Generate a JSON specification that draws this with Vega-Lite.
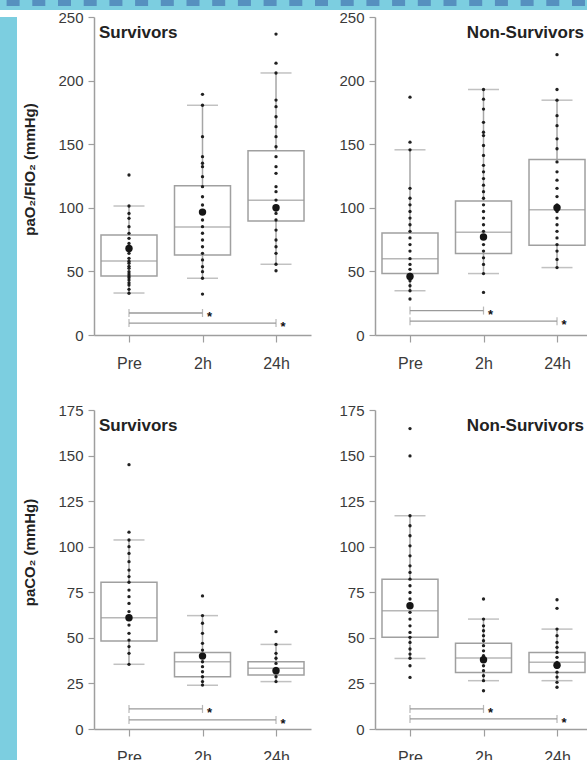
{
  "$schema": "https://vega.github.io/schema/vega-lite/v6.json",
  "padding": 0,
  "background": "white",
  "config": {
    "view": {"stroke": null},
    "axis": {"domainColor": "#9e9e9e", "domainWidth": 1.5, "tickColor": "#9e9e9e", "tickWidth": 1.2, "labelColor": "#3a3a3a", "labelFont": "Liberation Sans", "labelFontSize": 15, "titleFont": "Liberation Sans", "titleFontSize": 15, "titleFontWeight": "bold", "titleColor": "#222222", "grid": false},
    "axisX": {"tickSize": 7, "labelPadding": 13, "labelFontSize": 16, "labelAngle": 0},
    "axisY": {"tickSize": 6, "labelPadding": 5, "titlePadding": 20},
    "title": {"font": "Liberation Sans", "fontSize": 17, "fontWeight": "bold", "color": "#222222"}
  },
  "datasets": {
    "boxes": [
      {"panel": "O2S", "time": "Pre", "lo": 33, "q1": 46.4, "med": 58.2, "q3": 78.6, "hi": 101.4},
      {"panel": "O2S", "time": "2h", "lo": 44.6, "q1": 62.9, "med": 85, "q3": 117.4, "hi": 180.6},
      {"panel": "O2S", "time": "24h", "lo": 55.6, "q1": 89.6, "med": 106, "q3": 144.9, "hi": 206},
      {"panel": "O2N", "time": "Pre", "lo": 34.8, "q1": 48.3, "med": 60, "q3": 80.2, "hi": 145.6},
      {"panel": "O2N", "time": "2h", "lo": 48.3, "q1": 64, "med": 80.7, "q3": 105.4, "hi": 193},
      {"panel": "O2N", "time": "24h", "lo": 53, "q1": 70.6, "med": 98.4, "q3": 137.9, "hi": 184.6},
      {"panel": "CO2S", "time": "Pre", "lo": 35.5, "q1": 48.3, "med": 61, "q3": 80.5, "hi": 103.7},
      {"panel": "CO2S", "time": "2h", "lo": 24, "q1": 28.7, "med": 36.9, "q3": 41.9, "hi": 62.2},
      {"panel": "CO2S", "time": "24h", "lo": 26, "q1": 29.6, "med": 33.3, "q3": 36.9, "hi": 46.4},
      {"panel": "CO2N", "time": "Pre", "lo": 38.7, "q1": 50.3, "med": 64.9, "q3": 82.2, "hi": 117},
      {"panel": "CO2N", "time": "2h", "lo": 26.5, "q1": 31, "med": 38.9, "q3": 47, "hi": 60.3},
      {"panel": "CO2N", "time": "24h", "lo": 26.5, "q1": 31, "med": 36.6, "q3": 42, "hi": 54.8}
    ],
    "points": [
      {"panel": "O2S", "time": "Pre", "v": 125.8}, {"panel": "O2S", "time": "Pre", "v": 101.4}, {"panel": "O2S", "time": "Pre", "v": 95.6}, {"panel": "O2S", "time": "Pre", "v": 91.7}, {"panel": "O2S", "time": "Pre", "v": 85.2}, {"panel": "O2S", "time": "Pre", "v": 79.9}, {"panel": "O2S", "time": "Pre", "v": 76}, {"panel": "O2S", "time": "Pre", "v": 72}, {"panel": "O2S", "time": "Pre", "v": 68.1}, {"panel": "O2S", "time": "Pre", "v": 64.2}, {"panel": "O2S", "time": "Pre", "v": 60.3}, {"panel": "O2S", "time": "Pre", "v": 58}, {"panel": "O2S", "time": "Pre", "v": 56.4}, {"panel": "O2S", "time": "Pre", "v": 54}, {"panel": "O2S", "time": "Pre", "v": 52.4}, {"panel": "O2S", "time": "Pre", "v": 49.8}, {"panel": "O2S", "time": "Pre", "v": 48}, {"panel": "O2S", "time": "Pre", "v": 46.4}, {"panel": "O2S", "time": "Pre", "v": 45}, {"panel": "O2S", "time": "Pre", "v": 43.2}, {"panel": "O2S", "time": "Pre", "v": 41}, {"panel": "O2S", "time": "Pre", "v": 39.3}, {"panel": "O2S", "time": "Pre", "v": 35.9}, {"panel": "O2S", "time": "Pre", "v": 32.8},
      {"panel": "O2S", "time": "2h", "v": 189.2}, {"panel": "O2S", "time": "2h", "v": 180.6}, {"panel": "O2S", "time": "2h", "v": 155.9}, {"panel": "O2S", "time": "2h", "v": 140.2}, {"panel": "O2S", "time": "2h", "v": 135}, {"panel": "O2S", "time": "2h", "v": 132.3}, {"panel": "O2S", "time": "2h", "v": 124.5}, {"panel": "O2S", "time": "2h", "v": 116.6}, {"panel": "O2S", "time": "2h", "v": 108.7}, {"panel": "O2S", "time": "2h", "v": 102.2}, {"panel": "O2S", "time": "2h", "v": 90.4}, {"panel": "O2S", "time": "2h", "v": 85.2}, {"panel": "O2S", "time": "2h", "v": 80}, {"panel": "O2S", "time": "2h", "v": 74.7}, {"panel": "O2S", "time": "2h", "v": 69.4}, {"panel": "O2S", "time": "2h", "v": 64.2}, {"panel": "O2S", "time": "2h", "v": 59}, {"panel": "O2S", "time": "2h", "v": 53.7}, {"panel": "O2S", "time": "2h", "v": 49.8}, {"panel": "O2S", "time": "2h", "v": 44.6}, {"panel": "O2S", "time": "2h", "v": 32.2},
      {"panel": "O2S", "time": "24h", "v": 236.6}, {"panel": "O2S", "time": "24h", "v": 213.7}, {"panel": "O2S", "time": "24h", "v": 206}, {"panel": "O2S", "time": "24h", "v": 184.7}, {"panel": "O2S", "time": "24h", "v": 179.5}, {"panel": "O2S", "time": "24h", "v": 171.6}, {"panel": "O2S", "time": "24h", "v": 163.8}, {"panel": "O2S", "time": "24h", "v": 155.9}, {"panel": "O2S", "time": "24h", "v": 148}, {"panel": "O2S", "time": "24h", "v": 140.2}, {"panel": "O2S", "time": "24h", "v": 132.3}, {"panel": "O2S", "time": "24h", "v": 127.1}, {"panel": "O2S", "time": "24h", "v": 116.6}, {"panel": "O2S", "time": "24h", "v": 112.7}, {"panel": "O2S", "time": "24h", "v": 106.1}, {"panel": "O2S", "time": "24h", "v": 100.9}, {"panel": "O2S", "time": "24h", "v": 98.3}, {"panel": "O2S", "time": "24h", "v": 95.6}, {"panel": "O2S", "time": "24h", "v": 90.4}, {"panel": "O2S", "time": "24h", "v": 82.5}, {"panel": "O2S", "time": "24h", "v": 74.7}, {"panel": "O2S", "time": "24h", "v": 69.4}, {"panel": "O2S", "time": "24h", "v": 64.2}, {"panel": "O2S", "time": "24h", "v": 55.6}, {"panel": "O2S", "time": "24h", "v": 50.5},
      {"panel": "O2N", "time": "Pre", "v": 187}, {"panel": "O2N", "time": "Pre", "v": 151.6}, {"panel": "O2N", "time": "Pre", "v": 145.6}, {"panel": "O2N", "time": "Pre", "v": 115.3}, {"panel": "O2N", "time": "Pre", "v": 107.5}, {"panel": "O2N", "time": "Pre", "v": 102.3}, {"panel": "O2N", "time": "Pre", "v": 97.1}, {"panel": "O2N", "time": "Pre", "v": 91.9}, {"panel": "O2N", "time": "Pre", "v": 86.7}, {"panel": "O2N", "time": "Pre", "v": 81.5}, {"panel": "O2N", "time": "Pre", "v": 76.3}, {"panel": "O2N", "time": "Pre", "v": 71.1}, {"panel": "O2N", "time": "Pre", "v": 66}, {"panel": "O2N", "time": "Pre", "v": 60}, {"panel": "O2N", "time": "Pre", "v": 55.5}, {"panel": "O2N", "time": "Pre", "v": 51.6}, {"panel": "O2N", "time": "Pre", "v": 47.7}, {"panel": "O2N", "time": "Pre", "v": 45.2}, {"panel": "O2N", "time": "Pre", "v": 42.6}, {"panel": "O2N", "time": "Pre", "v": 38.7}, {"panel": "O2N", "time": "Pre", "v": 34.8}, {"panel": "O2N", "time": "Pre", "v": 28.3},
      {"panel": "O2N", "time": "2h", "v": 193}, {"panel": "O2N", "time": "2h", "v": 185.4}, {"panel": "O2N", "time": "2h", "v": 177.6}, {"panel": "O2N", "time": "2h", "v": 167.2}, {"panel": "O2N", "time": "2h", "v": 159.4}, {"panel": "O2N", "time": "2h", "v": 156.8}, {"panel": "O2N", "time": "2h", "v": 149}, {"panel": "O2N", "time": "2h", "v": 141.2}, {"panel": "O2N", "time": "2h", "v": 133.4}, {"panel": "O2N", "time": "2h", "v": 128.3}, {"panel": "O2N", "time": "2h", "v": 123}, {"panel": "O2N", "time": "2h", "v": 117.8}, {"panel": "O2N", "time": "2h", "v": 112.7}, {"panel": "O2N", "time": "2h", "v": 107.5}, {"panel": "O2N", "time": "2h", "v": 102.3}, {"panel": "O2N", "time": "2h", "v": 97.1}, {"panel": "O2N", "time": "2h", "v": 91.9}, {"panel": "O2N", "time": "2h", "v": 86.7}, {"panel": "O2N", "time": "2h", "v": 81.5}, {"panel": "O2N", "time": "2h", "v": 71.1}, {"panel": "O2N", "time": "2h", "v": 66}, {"panel": "O2N", "time": "2h", "v": 60.7}, {"panel": "O2N", "time": "2h", "v": 55.5}, {"panel": "O2N", "time": "2h", "v": 48.3}, {"panel": "O2N", "time": "2h", "v": 33.5},
      {"panel": "O2N", "time": "24h", "v": 220.4}, {"panel": "O2N", "time": "24h", "v": 193}, {"panel": "O2N", "time": "24h", "v": 184.6}, {"panel": "O2N", "time": "24h", "v": 172.4}, {"panel": "O2N", "time": "24h", "v": 164.6}, {"panel": "O2N", "time": "24h", "v": 154.2}, {"panel": "O2N", "time": "24h", "v": 146.4}, {"panel": "O2N", "time": "24h", "v": 136.1}, {"panel": "O2N", "time": "24h", "v": 128.3}, {"panel": "O2N", "time": "24h", "v": 121.7}, {"panel": "O2N", "time": "24h", "v": 115.3}, {"panel": "O2N", "time": "24h", "v": 108.8}, {"panel": "O2N", "time": "24h", "v": 102.3}, {"panel": "O2N", "time": "24h", "v": 97.1}, {"panel": "O2N", "time": "24h", "v": 91.9}, {"panel": "O2N", "time": "24h", "v": 86.7}, {"panel": "O2N", "time": "24h", "v": 81.5}, {"panel": "O2N", "time": "24h", "v": 76.3}, {"panel": "O2N", "time": "24h", "v": 71.1}, {"panel": "O2N", "time": "24h", "v": 66}, {"panel": "O2N", "time": "24h", "v": 59.4}, {"panel": "O2N", "time": "24h", "v": 53},
      {"panel": "CO2S", "time": "Pre", "v": 145}, {"panel": "CO2S", "time": "Pre", "v": 108}, {"panel": "CO2S", "time": "Pre", "v": 103.7}, {"panel": "CO2S", "time": "Pre", "v": 100}, {"panel": "CO2S", "time": "Pre", "v": 96.3}, {"panel": "CO2S", "time": "Pre", "v": 91.8}, {"panel": "CO2S", "time": "Pre", "v": 87.2}, {"panel": "CO2S", "time": "Pre", "v": 83.6}, {"panel": "CO2S", "time": "Pre", "v": 80.5}, {"panel": "CO2S", "time": "Pre", "v": 76.2}, {"panel": "CO2S", "time": "Pre", "v": 72.6}, {"panel": "CO2S", "time": "Pre", "v": 68.9}, {"panel": "CO2S", "time": "Pre", "v": 64.4}, {"panel": "CO2S", "time": "Pre", "v": 61}, {"panel": "CO2S", "time": "Pre", "v": 57}, {"panel": "CO2S", "time": "Pre", "v": 52.5}, {"panel": "CO2S", "time": "Pre", "v": 48.8}, {"panel": "CO2S", "time": "Pre", "v": 45.2}, {"panel": "CO2S", "time": "Pre", "v": 41.5}, {"panel": "CO2S", "time": "Pre", "v": 35.5},
      {"panel": "CO2S", "time": "2h", "v": 73}, {"panel": "CO2S", "time": "2h", "v": 62.2}, {"panel": "CO2S", "time": "2h", "v": 58}, {"panel": "CO2S", "time": "2h", "v": 52.5}, {"panel": "CO2S", "time": "2h", "v": 47}, {"panel": "CO2S", "time": "2h", "v": 43.3}, {"panel": "CO2S", "time": "2h", "v": 40}, {"panel": "CO2S", "time": "2h", "v": 36.9}, {"panel": "CO2S", "time": "2h", "v": 34.2}, {"panel": "CO2S", "time": "2h", "v": 31.4}, {"panel": "CO2S", "time": "2h", "v": 28.7}, {"panel": "CO2S", "time": "2h", "v": 26}, {"panel": "CO2S", "time": "2h", "v": 24.1},
      {"panel": "CO2S", "time": "24h", "v": 53.4}, {"panel": "CO2S", "time": "24h", "v": 46.4}, {"panel": "CO2S", "time": "24h", "v": 41.5}, {"panel": "CO2S", "time": "24h", "v": 38.8}, {"panel": "CO2S", "time": "24h", "v": 36}, {"panel": "CO2S", "time": "24h", "v": 33.3}, {"panel": "CO2S", "time": "24h", "v": 31.4}, {"panel": "CO2S", "time": "24h", "v": 28.7}, {"panel": "CO2S", "time": "24h", "v": 26},
      {"panel": "CO2N", "time": "Pre", "v": 164.8}, {"panel": "CO2N", "time": "Pre", "v": 149.8}, {"panel": "CO2N", "time": "Pre", "v": 117}, {"panel": "CO2N", "time": "Pre", "v": 111.5}, {"panel": "CO2N", "time": "Pre", "v": 106}, {"panel": "CO2N", "time": "Pre", "v": 100.5}, {"panel": "CO2N", "time": "Pre", "v": 95}, {"panel": "CO2N", "time": "Pre", "v": 89.5}, {"panel": "CO2N", "time": "Pre", "v": 85.9}, {"panel": "CO2N", "time": "Pre", "v": 82.2}, {"panel": "CO2N", "time": "Pre", "v": 78.6}, {"panel": "CO2N", "time": "Pre", "v": 74.9}, {"panel": "CO2N", "time": "Pre", "v": 71.3}, {"panel": "CO2N", "time": "Pre", "v": 67.6}, {"panel": "CO2N", "time": "Pre", "v": 64}, {"panel": "CO2N", "time": "Pre", "v": 60.3}, {"panel": "CO2N", "time": "Pre", "v": 56.6}, {"panel": "CO2N", "time": "Pre", "v": 53}, {"panel": "CO2N", "time": "Pre", "v": 50.3}, {"panel": "CO2N", "time": "Pre", "v": 47.5}, {"panel": "CO2N", "time": "Pre", "v": 43.9}, {"panel": "CO2N", "time": "Pre", "v": 41.1}, {"panel": "CO2N", "time": "Pre", "v": 38.8}, {"panel": "CO2N", "time": "Pre", "v": 34.7}, {"panel": "CO2N", "time": "Pre", "v": 28.3},
      {"panel": "CO2N", "time": "2h", "v": 71.3}, {"panel": "CO2N", "time": "2h", "v": 60.3}, {"panel": "CO2N", "time": "2h", "v": 56.6}, {"panel": "CO2N", "time": "2h", "v": 53.9}, {"panel": "CO2N", "time": "2h", "v": 51.2}, {"panel": "CO2N", "time": "2h", "v": 48.4}, {"panel": "CO2N", "time": "2h", "v": 45.7}, {"panel": "CO2N", "time": "2h", "v": 42.9}, {"panel": "CO2N", "time": "2h", "v": 40.2}, {"panel": "CO2N", "time": "2h", "v": 37.5}, {"panel": "CO2N", "time": "2h", "v": 34.7}, {"panel": "CO2N", "time": "2h", "v": 32}, {"panel": "CO2N", "time": "2h", "v": 29.2}, {"panel": "CO2N", "time": "2h", "v": 26.5}, {"panel": "CO2N", "time": "2h", "v": 21},
      {"panel": "CO2N", "time": "24h", "v": 70.9}, {"panel": "CO2N", "time": "24h", "v": 66.2}, {"panel": "CO2N", "time": "24h", "v": 54.8}, {"panel": "CO2N", "time": "24h", "v": 51.2}, {"panel": "CO2N", "time": "24h", "v": 47.5}, {"panel": "CO2N", "time": "24h", "v": 44.8}, {"panel": "CO2N", "time": "24h", "v": 42}, {"panel": "CO2N", "time": "24h", "v": 39.3}, {"panel": "CO2N", "time": "24h", "v": 36.6}, {"panel": "CO2N", "time": "24h", "v": 33.9}, {"panel": "CO2N", "time": "24h", "v": 31.2}, {"panel": "CO2N", "time": "24h", "v": 28.5}, {"panel": "CO2N", "time": "24h", "v": 25.6}, {"panel": "CO2N", "time": "24h", "v": 22.9}
    ],
    "means": [
      {"panel": "O2S", "time": "Pre", "v": 68}, {"panel": "O2S", "time": "2h", "v": 96.6}, {"panel": "O2S", "time": "24h", "v": 100},
      {"panel": "O2N", "time": "Pre", "v": 46}, {"panel": "O2N", "time": "2h", "v": 77}, {"panel": "O2N", "time": "24h", "v": 100},
      {"panel": "CO2S", "time": "Pre", "v": 61}, {"panel": "CO2S", "time": "2h", "v": 40}, {"panel": "CO2S", "time": "24h", "v": 32},
      {"panel": "CO2N", "time": "Pre", "v": 67.6}, {"panel": "CO2N", "time": "2h", "v": 38}, {"panel": "CO2N", "time": "24h", "v": 35}
    ],
    "brackets": [
      {"panel": "O2S", "from": "Pre", "to": "2h", "y": 17.3}, {"panel": "O2S", "from": "Pre", "to": "24h", "y": 9.4},
      {"panel": "O2N", "from": "Pre", "to": "2h", "y": 19.2}, {"panel": "O2N", "from": "Pre", "to": "24h", "y": 10.9},
      {"panel": "CO2S", "from": "Pre", "to": "2h", "y": 11}, {"panel": "CO2S", "from": "Pre", "to": "24h", "y": 5},
      {"panel": "CO2N", "from": "Pre", "to": "2h", "y": 11}, {"panel": "CO2N", "from": "Pre", "to": "24h", "y": 5.5}
    ]
  },
  "spacing": 0,
  "vconcat": [
    {
      "width": 593, "height": 10,
      "view": {"fill": "#7ccee0", "stroke": null},
      "data": {"values": [{"k": 1}]},
      "mark": {"type": "rule", "color": "#5690bf", "strokeWidth": 6, "strokeDash": [13, 12.7], "strokeDashOffset": 17.7, "clip": true},
      "encoding": {"y": {"datum": 7, "type": "quantitative", "scale": {"domain": [0, 10]}, "axis": null}}
    },
    {
      "spacing": 5,
      "hconcat": [
        {
          "width": 17, "height": 750,
          "view": {"fill": "#7ccee0", "stroke": null},
          "data": {"values": [{"k": 1}]},
          "mark": {"type": "text", "text": ""}
        },
        {
          "bounds": "flush",
          "columns": 2,
          "spacing": {"row": 75, "column": 64},
          "concat": [
                {
                  "width": 217, "height": 318,
                  "title": {"text": "Survivors", "anchor": "start", "frame": "group", "offset": -32, "dx": 5},
                  "encoding": {"x": {"field": "time", "type": "ordinal", "sort": null, "scale": {"type": "point", "domain": ["Pre", "2h", "24h"], "padding": 0.476}, "axis": {"title": null}}},
                  "layer": [
                    {"data": {"name": "boxes"}, "transform": [{"filter": "datum.panel === 'O2S'"}], "mark": {"type": "rule", "color": "#a6a6a6", "strokeWidth": 1.5}, "encoding": {"y": {"field": "lo", "type": "quantitative", "scale": {"domain": [0, 250], "nice": false}, "axis": {"title": "paO₂/FIO₂ (mmHg)", "titleY": 152, "values": [0, 25, 50, 75, 100, 125, 150, 175, 200, 225, 250], "labelExpr": "datum.value % 50 === 0 ? datum.label : ''"}}, "y2": {"field": "q1"}}},
                    {"data": {"name": "boxes"}, "transform": [{"filter": "datum.panel === 'O2S'"}], "mark": {"type": "rule", "color": "#a6a6a6", "strokeWidth": 1.5}, "encoding": {"y": {"field": "q3", "type": "quantitative"}, "y2": {"field": "hi"}}},
                    {"data": {"name": "boxes"}, "transform": [{"filter": "datum.panel === 'O2S'"}], "mark": {"type": "bar", "width": 56, "fill": "white", "fillOpacity": 0, "stroke": "#a0a0a0", "strokeWidth": 1.5}, "encoding": {"y": {"field": "q1", "type": "quantitative"}, "y2": {"field": "q3"}}},
                    {"data": {"name": "boxes"}, "transform": [{"filter": "datum.panel === 'O2S'"}], "mark": {"type": "tick", "size": 56, "thickness": 1.5, "color": "#999999"}, "encoding": {"y": {"field": "med", "type": "quantitative"}}},
                    {"data": {"name": "boxes"}, "transform": [{"filter": "datum.panel === 'O2S'"}], "mark": {"type": "tick", "size": 31, "thickness": 1.5, "color": "#a6a6a6"}, "encoding": {"y": {"field": "lo", "type": "quantitative"}}},
                    {"data": {"name": "boxes"}, "transform": [{"filter": "datum.panel === 'O2S'"}], "mark": {"type": "tick", "size": 31, "thickness": 1.5, "color": "#a6a6a6"}, "encoding": {"y": {"field": "hi", "type": "quantitative"}}},
                    {"data": {"name": "points"}, "transform": [{"filter": "datum.panel === 'O2S'"}], "mark": {"type": "circle", "size": 11, "color": "#151515", "opacity": 0.95}, "encoding": {"y": {"field": "v", "type": "quantitative"}}},
                    {"data": {"name": "means"}, "transform": [{"filter": "datum.panel === 'O2S'"}], "mark": {"type": "circle", "size": 55, "color": "#151515", "opacity": 1}, "encoding": {"y": {"field": "v", "type": "quantitative"}}},
                    {"data": {"name": "brackets"}, "transform": [{"filter": "datum.panel === 'O2S'"}], "mark": {"type": "rule", "color": "#9a9a9a", "strokeWidth": 1.3}, "encoding": {"x": {"field": "from", "type": "ordinal"}, "x2": {"field": "to"}, "y": {"field": "y", "type": "quantitative"}}},
                    {"data": {"name": "brackets"}, "transform": [{"filter": "datum.panel === 'O2S'"}], "mark": {"type": "tick", "orient": "vertical", "size": 8, "thickness": 1.2, "color": "#9a9a9a"}, "encoding": {"x": {"field": "from", "type": "ordinal"}, "y": {"field": "y", "type": "quantitative"}}},
                    {"data": {"name": "brackets"}, "transform": [{"filter": "datum.panel === 'O2S'"}], "mark": {"type": "tick", "orient": "vertical", "size": 8, "thickness": 1.2, "color": "#9a9a9a"}, "encoding": {"x": {"field": "to", "type": "ordinal"}, "y": {"field": "y", "type": "quantitative"}}},
                    {"data": {"name": "brackets"}, "transform": [{"filter": "datum.panel === 'O2S'"}], "mark": {"type": "text", "text": "*", "dx": 7, "dy": 4, "fontSize": 13, "fontWeight": "bold", "color": "#111111", "font": "Liberation Sans"}, "encoding": {"x": {"field": "to", "type": "ordinal"}, "y": {"field": "y", "type": "quantitative"}}}
                  ]
                },
                {
                  "width": 217, "height": 318,
                  "title": {"text": "Non-Survivors", "anchor": "end", "frame": "group", "offset": -32, "dx": -8},
                  "encoding": {"x": {"field": "time", "type": "ordinal", "sort": null, "scale": {"type": "point", "domain": ["Pre", "2h", "24h"], "padding": 0.476}, "axis": {"title": null}}},
                  "layer": [
                    {"data": {"name": "boxes"}, "transform": [{"filter": "datum.panel === 'O2N'"}], "mark": {"type": "rule", "color": "#a6a6a6", "strokeWidth": 1.5}, "encoding": {"y": {"field": "lo", "type": "quantitative", "scale": {"domain": [0, 250], "nice": false}, "axis": {"title": null, "values": [0, 25, 50, 75, 100, 125, 150, 175, 200, 225, 250], "labelExpr": "datum.value % 50 === 0 ? datum.label : ''"}}, "y2": {"field": "q1"}}},
                    {"data": {"name": "boxes"}, "transform": [{"filter": "datum.panel === 'O2N'"}], "mark": {"type": "rule", "color": "#a6a6a6", "strokeWidth": 1.5}, "encoding": {"y": {"field": "q3", "type": "quantitative"}, "y2": {"field": "hi"}}},
                    {"data": {"name": "boxes"}, "transform": [{"filter": "datum.panel === 'O2N'"}], "mark": {"type": "bar", "width": 56, "fill": "white", "fillOpacity": 0, "stroke": "#a0a0a0", "strokeWidth": 1.5}, "encoding": {"y": {"field": "q1", "type": "quantitative"}, "y2": {"field": "q3"}}},
                    {"data": {"name": "boxes"}, "transform": [{"filter": "datum.panel === 'O2N'"}], "mark": {"type": "tick", "size": 56, "thickness": 1.5, "color": "#999999"}, "encoding": {"y": {"field": "med", "type": "quantitative"}}},
                    {"data": {"name": "boxes"}, "transform": [{"filter": "datum.panel === 'O2N'"}], "mark": {"type": "tick", "size": 31, "thickness": 1.5, "color": "#a6a6a6"}, "encoding": {"y": {"field": "lo", "type": "quantitative"}}},
                    {"data": {"name": "boxes"}, "transform": [{"filter": "datum.panel === 'O2N'"}], "mark": {"type": "tick", "size": 31, "thickness": 1.5, "color": "#a6a6a6"}, "encoding": {"y": {"field": "hi", "type": "quantitative"}}},
                    {"data": {"name": "points"}, "transform": [{"filter": "datum.panel === 'O2N'"}], "mark": {"type": "circle", "size": 11, "color": "#151515", "opacity": 0.95}, "encoding": {"y": {"field": "v", "type": "quantitative"}}},
                    {"data": {"name": "means"}, "transform": [{"filter": "datum.panel === 'O2N'"}], "mark": {"type": "circle", "size": 55, "color": "#151515", "opacity": 1}, "encoding": {"y": {"field": "v", "type": "quantitative"}}},
                    {"data": {"name": "brackets"}, "transform": [{"filter": "datum.panel === 'O2N'"}], "mark": {"type": "rule", "color": "#9a9a9a", "strokeWidth": 1.3}, "encoding": {"x": {"field": "from", "type": "ordinal"}, "x2": {"field": "to"}, "y": {"field": "y", "type": "quantitative"}}},
                    {"data": {"name": "brackets"}, "transform": [{"filter": "datum.panel === 'O2N'"}], "mark": {"type": "tick", "orient": "vertical", "size": 8, "thickness": 1.2, "color": "#9a9a9a"}, "encoding": {"x": {"field": "from", "type": "ordinal"}, "y": {"field": "y", "type": "quantitative"}}},
                    {"data": {"name": "brackets"}, "transform": [{"filter": "datum.panel === 'O2N'"}], "mark": {"type": "tick", "orient": "vertical", "size": 8, "thickness": 1.2, "color": "#9a9a9a"}, "encoding": {"x": {"field": "to", "type": "ordinal"}, "y": {"field": "y", "type": "quantitative"}}},
                    {"data": {"name": "brackets"}, "transform": [{"filter": "datum.panel === 'O2N'"}], "mark": {"type": "text", "text": "*", "dx": 7, "dy": 4, "fontSize": 13, "fontWeight": "bold", "color": "#111111", "font": "Liberation Sans"}, "encoding": {"x": {"field": "to", "type": "ordinal"}, "y": {"field": "y", "type": "quantitative"}}}
                  ]
                },
                {
                  "width": 217, "height": 319,
                  "title": {"text": "Survivors", "anchor": "start", "frame": "group", "offset": -32, "dx": 5},
                  "encoding": {"x": {"field": "time", "type": "ordinal", "sort": null, "scale": {"type": "point", "domain": ["Pre", "2h", "24h"], "padding": 0.476}, "axis": {"title": null}}},
                  "layer": [
                    {"data": {"name": "boxes"}, "transform": [{"filter": "datum.panel === 'CO2S'"}], "mark": {"type": "rule", "color": "#a6a6a6", "strokeWidth": 1.5}, "encoding": {"y": {"field": "lo", "type": "quantitative", "scale": {"domain": [0, 175], "nice": false}, "axis": {"title": "paCO₂ (mmHg)", "titleY": 142, "values": [0, 12.5, 25, 37.5, 50, 62.5, 75, 87.5, 100, 112.5, 125, 137.5, 150, 162.5, 175], "labelExpr": "datum.value % 25 === 0 ? datum.label : ''"}}, "y2": {"field": "q1"}}},
                    {"data": {"name": "boxes"}, "transform": [{"filter": "datum.panel === 'CO2S'"}], "mark": {"type": "rule", "color": "#a6a6a6", "strokeWidth": 1.5}, "encoding": {"y": {"field": "q3", "type": "quantitative"}, "y2": {"field": "hi"}}},
                    {"data": {"name": "boxes"}, "transform": [{"filter": "datum.panel === 'CO2S'"}], "mark": {"type": "bar", "width": 56, "fill": "white", "fillOpacity": 0, "stroke": "#a0a0a0", "strokeWidth": 1.5}, "encoding": {"y": {"field": "q1", "type": "quantitative"}, "y2": {"field": "q3"}}},
                    {"data": {"name": "boxes"}, "transform": [{"filter": "datum.panel === 'CO2S'"}], "mark": {"type": "tick", "size": 56, "thickness": 1.5, "color": "#999999"}, "encoding": {"y": {"field": "med", "type": "quantitative"}}},
                    {"data": {"name": "boxes"}, "transform": [{"filter": "datum.panel === 'CO2S'"}], "mark": {"type": "tick", "size": 31, "thickness": 1.5, "color": "#a6a6a6"}, "encoding": {"y": {"field": "lo", "type": "quantitative"}}},
                    {"data": {"name": "boxes"}, "transform": [{"filter": "datum.panel === 'CO2S'"}], "mark": {"type": "tick", "size": 31, "thickness": 1.5, "color": "#a6a6a6"}, "encoding": {"y": {"field": "hi", "type": "quantitative"}}},
                    {"data": {"name": "points"}, "transform": [{"filter": "datum.panel === 'CO2S'"}], "mark": {"type": "circle", "size": 11, "color": "#151515", "opacity": 0.95}, "encoding": {"y": {"field": "v", "type": "quantitative"}}},
                    {"data": {"name": "means"}, "transform": [{"filter": "datum.panel === 'CO2S'"}], "mark": {"type": "circle", "size": 55, "color": "#151515", "opacity": 1}, "encoding": {"y": {"field": "v", "type": "quantitative"}}},
                    {"data": {"name": "brackets"}, "transform": [{"filter": "datum.panel === 'CO2S'"}], "mark": {"type": "rule", "color": "#9a9a9a", "strokeWidth": 1.3}, "encoding": {"x": {"field": "from", "type": "ordinal"}, "x2": {"field": "to"}, "y": {"field": "y", "type": "quantitative"}}},
                    {"data": {"name": "brackets"}, "transform": [{"filter": "datum.panel === 'CO2S'"}], "mark": {"type": "tick", "orient": "vertical", "size": 8, "thickness": 1.2, "color": "#9a9a9a"}, "encoding": {"x": {"field": "from", "type": "ordinal"}, "y": {"field": "y", "type": "quantitative"}}},
                    {"data": {"name": "brackets"}, "transform": [{"filter": "datum.panel === 'CO2S'"}], "mark": {"type": "tick", "orient": "vertical", "size": 8, "thickness": 1.2, "color": "#9a9a9a"}, "encoding": {"x": {"field": "to", "type": "ordinal"}, "y": {"field": "y", "type": "quantitative"}}},
                    {"data": {"name": "brackets"}, "transform": [{"filter": "datum.panel === 'CO2S'"}], "mark": {"type": "text", "text": "*", "dx": 7, "dy": 4, "fontSize": 13, "fontWeight": "bold", "color": "#111111", "font": "Liberation Sans"}, "encoding": {"x": {"field": "to", "type": "ordinal"}, "y": {"field": "y", "type": "quantitative"}}}
                  ]
                },
                {
                  "width": 217, "height": 319,
                  "title": {"text": "Non-Survivors", "anchor": "end", "frame": "group", "offset": -32, "dx": -8},
                  "encoding": {"x": {"field": "time", "type": "ordinal", "sort": null, "scale": {"type": "point", "domain": ["Pre", "2h", "24h"], "padding": 0.476}, "axis": {"title": null}}},
                  "layer": [
                    {"data": {"name": "boxes"}, "transform": [{"filter": "datum.panel === 'CO2N'"}], "mark": {"type": "rule", "color": "#a6a6a6", "strokeWidth": 1.5}, "encoding": {"y": {"field": "lo", "type": "quantitative", "scale": {"domain": [0, 175], "nice": false}, "axis": {"title": null, "values": [0, 12.5, 25, 37.5, 50, 62.5, 75, 87.5, 100, 112.5, 125, 137.5, 150, 162.5, 175], "labelExpr": "datum.value % 25 === 0 ? datum.label : ''"}}, "y2": {"field": "q1"}}},
                    {"data": {"name": "boxes"}, "transform": [{"filter": "datum.panel === 'CO2N'"}], "mark": {"type": "rule", "color": "#a6a6a6", "strokeWidth": 1.5}, "encoding": {"y": {"field": "q3", "type": "quantitative"}, "y2": {"field": "hi"}}},
                    {"data": {"name": "boxes"}, "transform": [{"filter": "datum.panel === 'CO2N'"}], "mark": {"type": "bar", "width": 56, "fill": "white", "fillOpacity": 0, "stroke": "#a0a0a0", "strokeWidth": 1.5}, "encoding": {"y": {"field": "q1", "type": "quantitative"}, "y2": {"field": "q3"}}},
                    {"data": {"name": "boxes"}, "transform": [{"filter": "datum.panel === 'CO2N'"}], "mark": {"type": "tick", "size": 56, "thickness": 1.5, "color": "#999999"}, "encoding": {"y": {"field": "med", "type": "quantitative"}}},
                    {"data": {"name": "boxes"}, "transform": [{"filter": "datum.panel === 'CO2N'"}], "mark": {"type": "tick", "size": 31, "thickness": 1.5, "color": "#a6a6a6"}, "encoding": {"y": {"field": "lo", "type": "quantitative"}}},
                    {"data": {"name": "boxes"}, "transform": [{"filter": "datum.panel === 'CO2N'"}], "mark": {"type": "tick", "size": 31, "thickness": 1.5, "color": "#a6a6a6"}, "encoding": {"y": {"field": "hi", "type": "quantitative"}}},
                    {"data": {"name": "points"}, "transform": [{"filter": "datum.panel === 'CO2N'"}], "mark": {"type": "circle", "size": 11, "color": "#151515", "opacity": 0.95}, "encoding": {"y": {"field": "v", "type": "quantitative"}}},
                    {"data": {"name": "means"}, "transform": [{"filter": "datum.panel === 'CO2N'"}], "mark": {"type": "circle", "size": 55, "color": "#151515", "opacity": 1}, "encoding": {"y": {"field": "v", "type": "quantitative"}}},
                    {"data": {"name": "brackets"}, "transform": [{"filter": "datum.panel === 'CO2N'"}], "mark": {"type": "rule", "color": "#9a9a9a", "strokeWidth": 1.3}, "encoding": {"x": {"field": "from", "type": "ordinal"}, "x2": {"field": "to"}, "y": {"field": "y", "type": "quantitative"}}},
                    {"data": {"name": "brackets"}, "transform": [{"filter": "datum.panel === 'CO2N'"}], "mark": {"type": "tick", "orient": "vertical", "size": 8, "thickness": 1.2, "color": "#9a9a9a"}, "encoding": {"x": {"field": "from", "type": "ordinal"}, "y": {"field": "y", "type": "quantitative"}}},
                    {"data": {"name": "brackets"}, "transform": [{"filter": "datum.panel === 'CO2N'"}], "mark": {"type": "tick", "orient": "vertical", "size": 8, "thickness": 1.2, "color": "#9a9a9a"}, "encoding": {"x": {"field": "to", "type": "ordinal"}, "y": {"field": "y", "type": "quantitative"}}},
                    {"data": {"name": "brackets"}, "transform": [{"filter": "datum.panel === 'CO2N'"}], "mark": {"type": "text", "text": "*", "dx": 7, "dy": 4, "fontSize": 13, "fontWeight": "bold", "color": "#111111", "font": "Liberation Sans"}, "encoding": {"x": {"field": "to", "type": "ordinal"}, "y": {"field": "y", "type": "quantitative"}}}
                  ]
                }
          ]
        }
      ]
    }
  ]
}
